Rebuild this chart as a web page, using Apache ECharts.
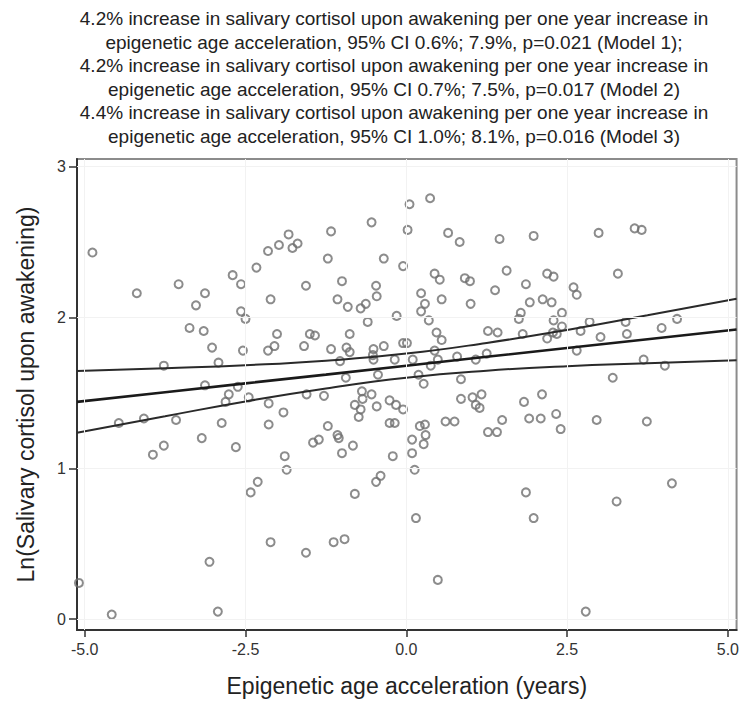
<!DOCTYPE html>
<html>
<head>
<meta charset="utf-8">
<title>Epigenetic age acceleration and cortisol</title>
<script src="https://cdn.jsdelivr.net/npm/echarts@6/dist/echarts.min.js"></script>
<style>
html, body { margin: 0; padding: 0; background: #ffffff; }
#chart { width: 742px; height: 702px; }
</style>
</head>
<body>
<div id="chart"></div>
<script>
var titleLines = [
    '4.2% increase in salivary cortisol upon awakening per one year increase in',
    'epigenetic age acceleration, 95% CI 0.6%; 7.9%, p=0.021 (Model 1);',
    '4.2% increase in salivary cortisol upon awakening per one year increase in',
    'epigenetic age acceleration, 95% CI 0.7%; 7.5%, p=0.017 (Model 2)',
    '4.4% increase in salivary cortisol upon awakening per one year increase in',
    'epigenetic age acceleration, 95% CI 1.0%; 8.1%, p=0.016 (Model 3)'
];
var xTicks = [-5, -2.5, 0, 2.5, 5];
var yTicks = [0, 1, 2, 3];

// [epigenetic age acceleration (years), ln cortisol]
var subjects = [
    [-4.88,2.43],[-4.19,2.16],[-3.54,2.22],[-3.27,2.08],[-3.13,2.16],[-2.70,2.28],[-2.57,2.22],[-2.57,2.04],
    [-3.37,1.93],[-3.15,1.91],[-3.02,1.80],[-2.92,1.70],[-3.77,1.68],[-3.13,1.55],[-2.76,1.49],[-2.81,1.44],
    [-2.62,1.54],[-2.54,1.78],[-4.47,1.30],[-4.08,1.33],[-3.58,1.32],[-2.87,1.30],[-3.18,1.20],[-3.77,1.15],
    [-3.94,1.09],[-2.65,1.14],[-5.09,0.24],[-4.58,0.03],[-3.06,0.38],[-2.93,0.05],
    [-2.50,1.99],[-2.33,2.33],[-2.15,2.44],[-1.98,2.48],[-1.83,2.55],[-1.69,2.49],[-1.77,2.46],[-2.11,2.12],
    [-1.56,2.21],[-1.22,2.39],[-1.17,2.57],[-1.00,2.24],[-1.07,2.12],[-0.91,2.07],[-0.71,2.06],[-0.63,2.09],
    [-0.47,2.21],[-0.46,2.14],[-0.60,1.97],[-0.54,2.63],[-0.35,2.39],[-0.05,2.34],[-0.15,2.01],[0.05,2.75],
    [0.02,2.58],[-2.01,1.89],[-1.50,1.89],[-1.42,1.88],[-0.88,1.89],[-2.15,1.78],[-2.05,1.81],[-1.59,1.81],
    [-1.17,1.79],[-0.93,1.80],[-0.88,1.77],[-0.52,1.75],[-0.51,1.79],[-0.35,1.81],[-0.05,1.83],[0.01,1.83],
    [-1.03,1.71],[-0.51,1.72],[-0.18,1.72],[-0.94,1.60],[-0.44,1.62],[-2.45,1.47],[-2.14,1.43],[-1.55,1.49],
    [-1.28,1.48],[-1.91,1.37],[-2.14,1.29],[-0.69,1.51],[-0.68,1.46],[-0.80,1.42],[-0.71,1.39],[-0.74,1.34],
    [-0.54,1.49],[-0.46,1.41],[-0.26,1.45],[-0.16,1.42],[-0.05,1.39],[-0.26,1.30],[-0.18,1.30],[-1.22,1.28],
    [-1.07,1.22],[-1.05,1.20],[-0.83,1.15],[-1.45,1.17],[-1.36,1.19],[-1.00,1.10],[-1.89,1.08],[-1.86,0.99],
    [-0.21,1.08],[-2.31,0.91],[-0.47,0.91],[-0.40,0.95],[-2.42,0.84],[-2.11,0.51],[-1.56,0.44],[-1.13,0.51],
    [-0.96,0.53],[-0.80,0.83],
    [0.37,2.79],[0.65,2.56],[0.83,2.50],[1.45,2.52],[1.98,2.54],[0.44,2.29],[0.52,2.25],[0.91,2.26],
    [0.99,2.24],[1.56,2.31],[1.86,2.22],[1.38,2.18],[2.19,2.29],[2.29,2.27],[2.60,2.20],[2.65,2.15],
    [0.23,2.16],[0.29,2.09],[0.23,2.04],[0.55,2.12],[1.00,2.09],[0.35,1.98],[1.92,2.10],[2.12,2.12],
    [2.26,2.10],[1.78,2.03],[1.75,1.99],[2.42,2.03],[2.29,1.98],[2.42,1.94],[0.47,1.90],[1.27,1.91],
    [1.42,1.90],[1.81,1.89],[2.19,1.86],[2.28,1.90],[2.34,1.89],[0.55,1.85],[2.65,1.78],[0.44,1.78],
    [0.10,1.72],[0.49,1.72],[0.38,1.68],[0.79,1.74],[1.08,1.72],[1.25,1.76],[0.19,1.62],[0.27,1.56],
    [0.85,1.59],[0.85,1.46],[1.03,1.47],[1.17,1.49],[1.08,1.42],[1.14,1.40],[1.83,1.44],[2.11,1.49],
    [0.61,1.31],[0.75,1.31],[1.49,1.32],[1.91,1.33],[2.09,1.33],[2.33,1.36],[2.40,1.26],[0.21,1.28],
    [0.29,1.29],[0.30,1.22],[0.27,1.16],[0.09,1.19],[1.27,1.24],[1.41,1.24],[0.09,1.10],[0.13,0.99],
    [1.86,0.84],[1.98,0.67],[0.15,0.67],[0.49,0.26],[3.27,0.78],[4.13,0.90],[2.79,0.05],
    [2.99,2.56],[3.55,2.59],[3.66,2.58],[3.29,2.29],[2.85,1.97],[2.71,1.91],[3.41,1.97],[3.43,1.89],
    [3.97,1.93],[4.21,1.99],[3.02,1.87],[3.69,1.72],[4.02,1.68],[3.21,1.60],[2.96,1.32],[3.74,1.31]
];

// fitted line and its 95% CI
var fitX    = [-5.12, -3.75, -2.5, -1.25, 0, 1.25, 2.5, 3.75, 5.135];
var fitY    = [1.440, 1.504, 1.563, 1.621, 1.680, 1.739, 1.797, 1.855, 1.920];
var ciUpper = [1.644, 1.663, 1.683, 1.713, 1.760, 1.831, 1.917, 2.014, 2.124];
var ciLower = [1.236, 1.345, 1.443, 1.529, 1.600, 1.647, 1.677, 1.696, 1.716];

function pairs(xs, ys) {
    return xs.map(function (x, i) { return [x, ys[i]]; });
}

var font = '"Liberation Sans", Arial, sans-serif';
var myChart = echarts.init(document.getElementById('chart'), null, { renderer: 'svg' });
myChart.setOption({
    animation: false,
    backgroundColor: '#ffffff',
    textStyle: { fontFamily: font },
    graphic: [{
        type: 'text',
        x: 394,
        y: 7,
        style: {
            text: titleLines.join('\n'),
            textAlign: 'center',
            textVerticalAlign: 'top',
            fontFamily: font,
            fontSize: 19,
            lineHeight: 23.5,
            fill: '#222222'
        }
    }],
    grid: {
        left: 77, right: 5, top: 159, bottom: 68,
        show: true,
        borderColor: '#8c8c8c',
        borderWidth: 2
    },
    xAxis: {
        type: 'value',
        min: -5.12,
        max: 5.135,
        name: 'Epigenetic age acceleration (years)',
        nameLocation: 'middle',
        nameGap: 44,
        nameTextStyle: { fontSize: 23, color: '#222222' },
        axisLine: { show: true, onZero: false, lineStyle: { color: '#333333', width: 2 } },
        axisTick: { show: true, length: 7, customValues: xTicks, lineStyle: { color: '#333333', width: 1.5 } },
        axisLabel: {
            customValues: xTicks, fontSize: 16, color: '#333333', margin: 11,
            formatter: function (v) { return v.toFixed(1); }
        },
        splitLine: { show: false }
    },
    yAxis: {
        type: 'value',
        min: -0.072,
        max: 3.05,
        name: 'Ln(Salivary cortisol upon awakening)',
        nameLocation: 'middle',
        nameGap: 40,
        nameTextStyle: { fontSize: 23, color: '#222222' },
        axisLine: { show: true, onZero: false, lineStyle: { color: '#333333', width: 2 } },
        axisTick: { show: true, length: 8, customValues: yTicks, lineStyle: { color: '#333333', width: 1.5 } },
        axisLabel: {
            customValues: yTicks, fontSize: 16, color: '#333333', margin: 11,
            formatter: function (v) { return String(v); }
        },
        splitLine: { show: false }
    },
    series: [
        {
            // faint reference lines at the ticks
            type: 'scatter',
            data: [],
            z: 0,
            markLine: {
                silent: true,
                symbol: ['none', 'none'],
                label: { show: false },
                lineStyle: { color: '#f2f2f2', width: 1, type: 'solid' },
                data: xTicks.map(function (v) { return { xAxis: v }; })
                    .concat(yTicks.map(function (v) { return { yAxis: v }; }))
            }
        },
        {
            type: 'scatter',
            data: subjects,
            symbol: 'circle',
            symbolSize: 8,
            itemStyle: { color: 'rgba(255,255,255,0)', borderColor: '#6f6f6f', borderWidth: 2 },
            z: 3
        },
        {
            type: 'line',
            data: pairs(fitX, fitY),
            showSymbol: false,
            lineStyle: { color: '#1a1a1a', width: 2.6 },
            z: 4
        },
        {
            type: 'line',
            data: pairs(fitX, ciUpper),
            showSymbol: false,
            smooth: true,
            lineStyle: { color: '#2a2a2a', width: 2 },
            z: 4
        },
        {
            type: 'line',
            data: pairs(fitX, ciLower),
            showSymbol: false,
            smooth: true,
            lineStyle: { color: '#2a2a2a', width: 2 },
            z: 4
        }
    ]
});
</script>
</body>
</html>
